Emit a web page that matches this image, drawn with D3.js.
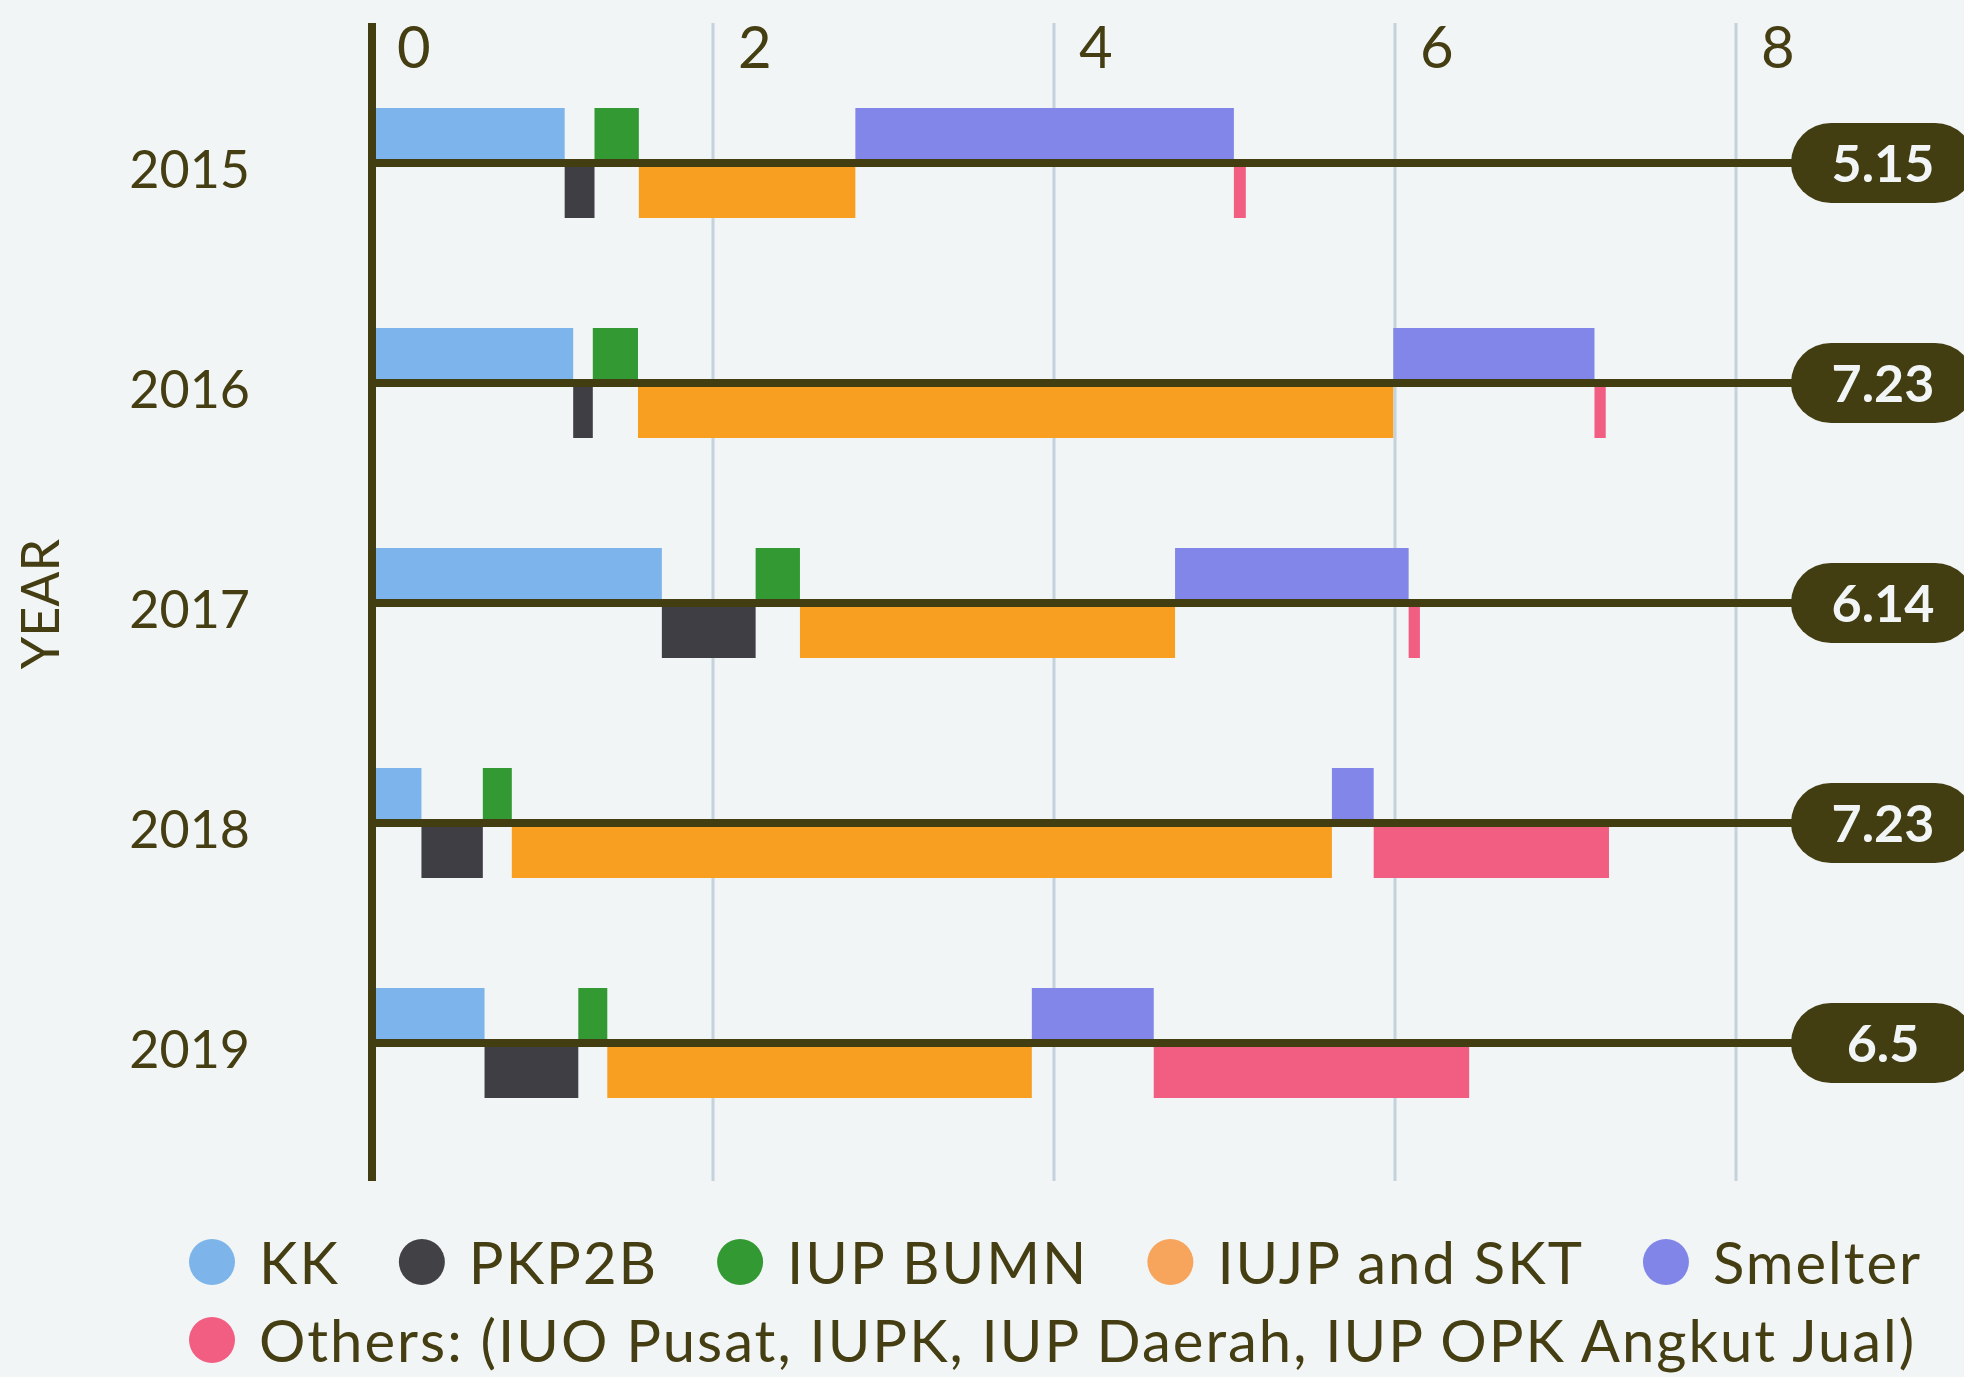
<!DOCTYPE html>
<html>
<head>
<meta charset="utf-8">
<script src="https://cdn.jsdelivr.net/npm/d3@7"></script>
<style>
  html, body { margin: 0; padding: 0; background: #f1f5f6; }
  svg { display: block; }
  text { font-family: Lato, "Noto Sans", sans-serif; fill: #443e12; }
</style>
</head>
<body>
<svg id="chart"></svg>
<script>
// data
const years = ['2015', '2016', '2017', '2018', '2019'];
const categories = ['KK', 'PKP2B', 'IUP BUMN', 'IUJP and SKT', 'Smelter',
  'Others: (IUO Pusat, IUPK, IUP Daerah, IUP OPK Angkut Jual)'];
const kk       = [1.13, 1.18, 1.70, 0.29, 0.66];
const pkp2b    = [0.175, 0.115, 0.55, 0.36, 0.55];
const iupBumn  = [0.26, 0.265, 0.26, 0.17, 0.17];
const iujpSkt  = [1.27, 4.43, 2.20, 4.81, 2.49];
const smelter  = [2.22, 1.18, 1.37, 0.245, 0.715];
const others   = [0.07, 0.066, 0.066, 1.38, 1.85];
const totals   = [5.15, 7.23, 6.14, 7.23, 6.5];
const xTicks   = [0, 2, 4, 6, 8];

const barColors    = ['#7db4eb', '#3f3e44', '#339933', '#f89f21', '#8186e8', '#f25e82'];
const legendColors = ['#7db5ea', '#424146', '#339933', '#f7a45c', '#8285e8', '#f25d82'];

const W = 1964, H = 1377;

const svg = d3.select('#chart').attr('width', W).attr('height', H);
svg.append('rect').attr('width', W).attr('height', H).attr('fill', '#f1f5f6');

const x = d3.scaleLinear().domain([0, 8]).range([372, 1736]);
const y = d3.scalePoint().domain(years).range([163, 1043]);
const barH = 55;
const axisTop = 23, axisBottom = 1181;

// gridlines
svg.append('g').selectAll('line')
  .data(xTicks.filter(d => d > 0))
  .join('line')
  .attr('x1', d => x(d)).attr('x2', d => x(d))
  .attr('y1', axisTop).attr('y2', axisBottom)
  .attr('stroke', '#c4d2db').attr('stroke-width', 3);

// tick labels
svg.append('g').selectAll('text')
  .data(xTicks)
  .join('text')
  .attr('x', d => x(d) + 25)
  .attr('y', 68)
  .attr('font-size', 58)
  .text(d => d);

// segments: alternate above / below the baseline
const series = [kk, pkp2b, iupBumn, iujpSkt, smelter, others];
const segs = [];
years.forEach((yr, i) => {
  let start = 0;
  series.forEach((s, k) => {
    segs.push({ yr, k, x0: start, x1: start + s[i] });
    start += s[i];
  });
});

svg.append('g').selectAll('rect')
  .data(segs)
  .join('rect')
  .attr('x', d => x(d.x0))
  .attr('width', d => x(d.x1) - x(d.x0))
  .attr('y', d => d.k % 2 === 0 ? y(d.yr) - barH : y(d.yr))
  .attr('height', barH)
  .attr('fill', d => barColors[d.k]);

// baselines + total pills
const pillCx = 1883, pillW = 184, pillH = 80;
const rows = svg.append('g').selectAll('g')
  .data(years)
  .join('g');

rows.append('line')
  .attr('x1', x(0)).attr('x2', pillCx - pillW / 2 + 5)
  .attr('y1', d => y(d)).attr('y2', d => y(d))
  .attr('stroke', '#433d12').attr('stroke-width', 8);

rows.append('rect')
  .attr('x', pillCx - pillW / 2)
  .attr('y', d => y(d) - pillH / 2)
  .attr('width', pillW).attr('height', pillH)
  .attr('rx', pillH / 2)
  .attr('fill', '#433d12');

rows.append('text')
  .attr('x', pillCx)
  .attr('y', d => y(d) + 19)
  .attr('text-anchor', 'middle')
  .attr('font-size', 52)
  .attr('font-weight', 700)
  .style('fill', '#f1f5f6')
  .text((d, i) => totals[i]);

// year labels
rows.append('text')
  .attr('x', 250)
  .attr('y', d => y(d) + 25)
  .attr('text-anchor', 'end')
  .attr('font-size', 52)
  .text(d => d);

// vertical axis line
svg.append('line')
  .attr('x1', x(0)).attr('x2', x(0))
  .attr('y1', axisTop).attr('y2', axisBottom)
  .attr('stroke', '#433d12').attr('stroke-width', 8);

svg.append('text')
  .attr('transform', 'translate(59,604) rotate(-90)')
  .attr('text-anchor', 'middle')
  .attr('font-size', 52)
  .text('YEAR');

// legend, flowed left to right
const legend = svg.append('g');
const legendRows = [[0, 1, 2, 3, 4], [5]];
const rowY = [1262, 1340];
legendRows.forEach((idx, r) => {
  let cx = 212;
  idx.forEach(k => {
    legend.append('circle')
      .attr('cx', cx).attr('cy', rowY[r]).attr('r', 23)
      .attr('fill', legendColors[k]);
    const t = legend.append('text')
      .attr('x', cx + 47)
      .attr('y', rowY[r] + 22)
      .attr('font-size', 58)
      .attr('letter-spacing', 2)
      .text(categories[k]);
    cx = cx + 47 + t.node().getComputedTextLength() + 82;
  });
});
</script>
</body>
</html>
